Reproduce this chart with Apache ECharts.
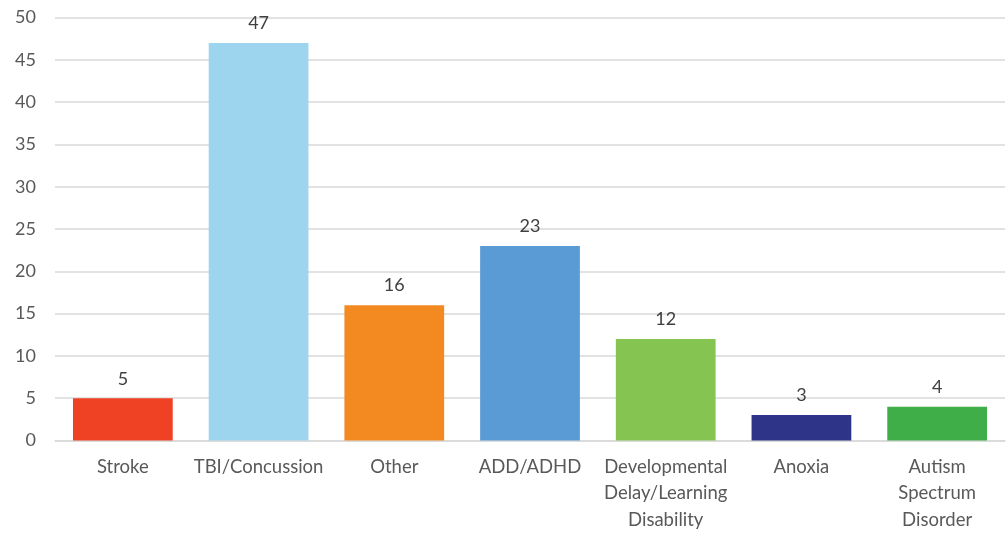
<!DOCTYPE html>
<html><head><meta charset="utf-8">
<script src="https://cdn.jsdelivr.net/npm/echarts@6/dist/echarts.min.js"></script>
<style>html,body{margin:0;padding:0;background:#fff;}#c{width:1008px;height:533px;}</style>
</head><body><div id="c"></div>
<script>
const categories = ["Stroke","TBI/Concussion","Other","ADD/ADHD","Developmental\nDelay/Learning\nDisability","Anoxia","Autism\nSpectrum\nDisorder"];
const values = [5,47,16,23,12,3,4];
const colors = ["#EF4123","#9DD5EE","#F28A21","#5B9BD5","#85C450","#2E3589","#3FAE49"];
const yTicks = [0,5,10,15,20,25,30,35,40,45,50];

const chart = echarts.init(document.getElementById('c'));
chart.setOption({
  animation:false,
  grid:{left:55,right:3,top:17.5,bottom:87.5,containLabel:false},
  xAxis:{type:'category',data:categories,
    axisLine:{show:true,lineStyle:{color:'#d9d9d9',width:1.5}},
    axisTick:{show:false},
    axisLabel:{color:'#595959',fontFamily:'Lato',fontSize:18.5,lineHeight:26.5,margin:13,interval:0}},
  yAxis:{type:'value',min:yTicks[0],max:yTicks[yTicks.length-1],interval:5,
    axisLine:{show:false},axisTick:{show:false},
    splitLine:{lineStyle:{color:'#d9d9d9',width:1.5}},
    axisLabel:{color:'#595959',fontFamily:'Lato',fontSize:18,margin:19}},
  series:[{type:'bar',barCategoryGap:'26.5%',
    data:values.map((v,i)=>({value:v,itemStyle:{color:colors[i]}})),
    label:{show:true,position:'top',distance:10.5,color:'#404040',fontFamily:'Lato',fontSize:18}}]
});
</script></body></html>
